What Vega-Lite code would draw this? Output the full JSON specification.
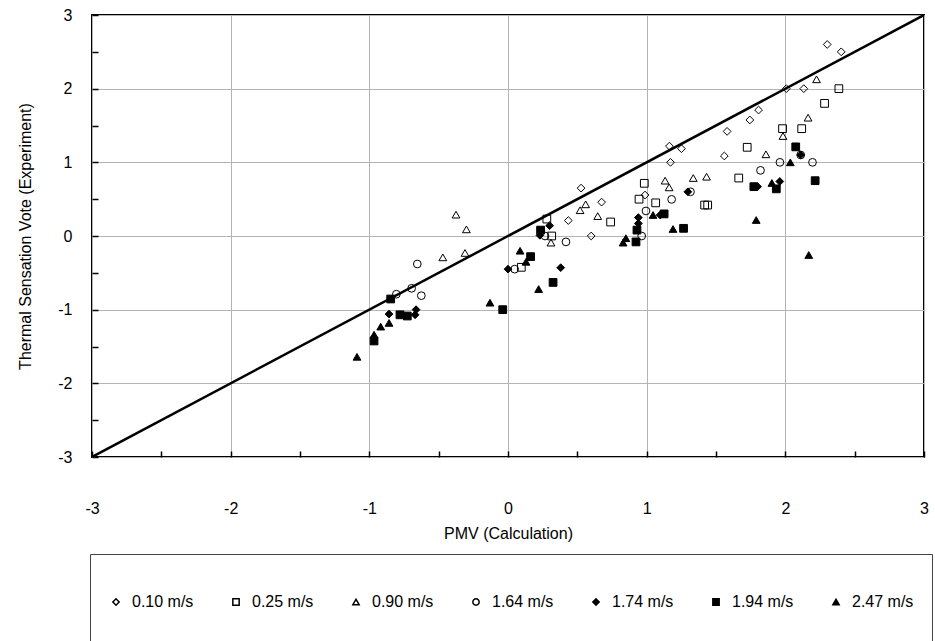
{
  "$schema": "https://vega.github.io/schema/vega-lite/v6.json",
  "width": 832,
  "height": 442,
  "autosize": {"type": "none"},
  "padding": {"left": 92, "top": 15, "right": 11, "bottom": 184},
  "background": "white",
  "config": {
    "font": "Liberation Sans",
    "view": {"stroke": "black", "strokeWidth": 2}
  },
  "datasets": {
    "diag": [{"x": -3, "y": -3}, {"x": 3, "y": 3}],
    "pts": [
      {"speed": "0.10 m/s", "x": 0.435, "y": 0.21},
      {"speed": "0.10 m/s", "x": 0.527, "y": 0.65},
      {"speed": "0.10 m/s", "x": 0.60, "y": 0.0},
      {"speed": "0.10 m/s", "x": 0.675, "y": 0.46},
      {"speed": "0.10 m/s", "x": 0.988, "y": 0.556},
      {"speed": "0.10 m/s", "x": 1.164, "y": 1.22},
      {"speed": "0.10 m/s", "x": 1.172, "y": 1.0},
      {"speed": "0.10 m/s", "x": 1.251, "y": 1.185},
      {"speed": "0.10 m/s", "x": 1.56, "y": 1.086},
      {"speed": "0.10 m/s", "x": 1.58, "y": 1.42},
      {"speed": "0.10 m/s", "x": 1.744, "y": 1.575},
      {"speed": "0.10 m/s", "x": 1.807, "y": 1.71},
      {"speed": "0.10 m/s", "x": 2.007, "y": 2.0},
      {"speed": "0.10 m/s", "x": 2.133, "y": 2.0},
      {"speed": "0.10 m/s", "x": 2.302, "y": 2.6},
      {"speed": "0.10 m/s", "x": 2.403, "y": 2.5},
      {"speed": "0.25 m/s", "x": 0.096, "y": -0.425},
      {"speed": "0.25 m/s", "x": 0.28, "y": 0.23},
      {"speed": "0.25 m/s", "x": 0.315, "y": 0.0},
      {"speed": "0.25 m/s", "x": 0.74, "y": 0.19},
      {"speed": "0.25 m/s", "x": 0.945, "y": 0.5},
      {"speed": "0.25 m/s", "x": 0.983, "y": 0.715},
      {"speed": "0.25 m/s", "x": 1.065, "y": 0.45},
      {"speed": "0.25 m/s", "x": 1.418, "y": 0.42},
      {"speed": "0.25 m/s", "x": 1.44, "y": 0.42},
      {"speed": "0.25 m/s", "x": 1.664, "y": 0.787},
      {"speed": "0.25 m/s", "x": 1.725, "y": 1.204},
      {"speed": "0.25 m/s", "x": 1.98, "y": 1.457},
      {"speed": "0.25 m/s", "x": 2.118, "y": 1.457},
      {"speed": "0.25 m/s", "x": 2.283, "y": 1.8},
      {"speed": "0.25 m/s", "x": 2.386, "y": 2.0},
      {"speed": "0.90 m/s", "x": -0.375, "y": 0.29},
      {"speed": "0.90 m/s", "x": -0.3, "y": 0.09},
      {"speed": "0.90 m/s", "x": -0.47, "y": -0.29},
      {"speed": "0.90 m/s", "x": -0.31, "y": -0.23},
      {"speed": "0.90 m/s", "x": 0.31, "y": -0.09},
      {"speed": "0.90 m/s", "x": 0.52, "y": 0.35},
      {"speed": "0.90 m/s", "x": 0.56, "y": 0.43},
      {"speed": "0.90 m/s", "x": 0.647, "y": 0.27},
      {"speed": "0.90 m/s", "x": 1.133, "y": 0.751},
      {"speed": "0.90 m/s", "x": 1.162, "y": 0.66},
      {"speed": "0.90 m/s", "x": 1.336, "y": 0.787},
      {"speed": "0.90 m/s", "x": 1.432, "y": 0.805},
      {"speed": "0.90 m/s", "x": 1.86, "y": 1.109},
      {"speed": "0.90 m/s", "x": 1.983, "y": 1.357},
      {"speed": "0.90 m/s", "x": 2.164, "y": 1.606},
      {"speed": "0.90 m/s", "x": 2.225, "y": 2.127},
      {"speed": "1.64 m/s", "x": -0.805, "y": -0.79},
      {"speed": "1.64 m/s", "x": -0.695, "y": -0.71},
      {"speed": "1.64 m/s", "x": -0.654, "y": -0.38},
      {"speed": "1.64 m/s", "x": -0.625, "y": -0.81},
      {"speed": "1.64 m/s", "x": 0.048, "y": -0.45},
      {"speed": "1.64 m/s", "x": 0.267, "y": 0.0},
      {"speed": "1.64 m/s", "x": 0.418, "y": -0.08},
      {"speed": "1.64 m/s", "x": 0.964, "y": 0.0},
      {"speed": "1.64 m/s", "x": 0.995, "y": 0.34},
      {"speed": "1.64 m/s", "x": 1.18, "y": 0.497},
      {"speed": "1.64 m/s", "x": 1.316, "y": 0.6},
      {"speed": "1.64 m/s", "x": 1.821, "y": 0.891},
      {"speed": "1.64 m/s", "x": 1.961, "y": 1.0},
      {"speed": "1.64 m/s", "x": 2.111, "y": 1.1},
      {"speed": "1.64 m/s", "x": 2.196, "y": 1.0},
      {"speed": "1.74 m/s", "x": -0.858, "y": -1.06},
      {"speed": "1.74 m/s", "x": -0.67, "y": -1.07},
      {"speed": "1.74 m/s", "x": -0.663, "y": -1.0},
      {"speed": "1.74 m/s", "x": 0.0, "y": -0.45},
      {"speed": "1.74 m/s", "x": 0.23, "y": 0.01},
      {"speed": "1.74 m/s", "x": 0.3, "y": 0.14},
      {"speed": "1.74 m/s", "x": 0.38, "y": -0.43},
      {"speed": "1.74 m/s", "x": 0.94, "y": 0.25},
      {"speed": "1.74 m/s", "x": 0.94, "y": 0.17},
      {"speed": "1.74 m/s", "x": 1.097, "y": 0.285},
      {"speed": "1.74 m/s", "x": 1.297, "y": 0.6},
      {"speed": "1.74 m/s", "x": 1.8, "y": 0.67},
      {"speed": "1.74 m/s", "x": 1.96, "y": 0.74},
      {"speed": "1.74 m/s", "x": 2.111, "y": 1.1},
      {"speed": "1.94 m/s", "x": -0.966, "y": -1.425},
      {"speed": "1.94 m/s", "x": -0.846, "y": -0.855},
      {"speed": "1.94 m/s", "x": -0.779, "y": -1.07},
      {"speed": "1.94 m/s", "x": -0.726, "y": -1.086},
      {"speed": "1.94 m/s", "x": -0.038, "y": -1.0},
      {"speed": "1.94 m/s", "x": 0.163, "y": -0.28},
      {"speed": "1.94 m/s", "x": 0.235, "y": 0.08},
      {"speed": "1.94 m/s", "x": 0.325, "y": -0.63},
      {"speed": "1.94 m/s", "x": 0.923, "y": -0.08},
      {"speed": "1.94 m/s", "x": 0.93, "y": 0.08},
      {"speed": "1.94 m/s", "x": 1.126, "y": 0.3},
      {"speed": "1.94 m/s", "x": 1.266, "y": 0.104},
      {"speed": "1.94 m/s", "x": 1.773, "y": 0.67},
      {"speed": "1.94 m/s", "x": 1.935, "y": 0.64},
      {"speed": "1.94 m/s", "x": 2.075, "y": 1.21},
      {"speed": "1.94 m/s", "x": 2.215, "y": 0.751},
      {"speed": "2.47 m/s", "x": -1.089, "y": -1.64},
      {"speed": "2.47 m/s", "x": -0.966, "y": -1.34},
      {"speed": "2.47 m/s", "x": -0.918, "y": -1.23},
      {"speed": "2.47 m/s", "x": -0.858, "y": -1.18},
      {"speed": "2.47 m/s", "x": -0.13, "y": -0.905},
      {"speed": "2.47 m/s", "x": 0.087, "y": -0.2},
      {"speed": "2.47 m/s", "x": 0.13, "y": -0.35},
      {"speed": "2.47 m/s", "x": 0.221, "y": -0.72},
      {"speed": "2.47 m/s", "x": 0.83, "y": -0.09},
      {"speed": "2.47 m/s", "x": 0.85, "y": -0.03},
      {"speed": "2.47 m/s", "x": 1.046, "y": 0.285},
      {"speed": "2.47 m/s", "x": 1.19, "y": 0.095},
      {"speed": "2.47 m/s", "x": 1.79, "y": 0.217},
      {"speed": "2.47 m/s", "x": 1.903, "y": 0.72},
      {"speed": "2.47 m/s", "x": 2.036, "y": 1.0},
      {"speed": "2.47 m/s", "x": 2.169, "y": -0.258}
    ]
  },
  "encoding": {
    "x": {
      "field": "x",
      "type": "quantitative",
      "scale": {"domain": [-3, 3], "nice": false, "zero": false},
      "axis": {
        "values": [-3, -2.5, -2, -1.5, -1, -0.5, 0, 0.5, 1, 1.5, 2, 2.5, 3],
        "title": "PMV (Calculation)",
        "labelExpr": "datum.value % 1 === 0 ? '' + datum.value : ''",
        "grid": true,
        "gridColor": "#b4b4b4",
        "gridWidth": 1,
        "gridOpacity": {"condition": {"test": "datum.value % 1 !== 0", "value": 0}, "value": 1},
        "domain": false,
        "ticks": true,
        "tickSize": -6,
        "tickColor": "black",
        "tickWidth": 1.5,
        "labelPadding": 49,
        "labelFontSize": 16,
        "labelColor": "black",
        "labelFlush": false,
        "labelOverlap": false,
        "titleFontSize": 16,
        "titleFontWeight": "normal",
        "titleColor": "black",
        "titlePadding": 9
      }
    },
    "y": {
      "field": "y",
      "type": "quantitative",
      "scale": {"domain": [-3, 3], "nice": false, "zero": false},
      "axis": {
        "values": [-3, -2.5, -2, -1.5, -1, -0.5, 0, 0.5, 1, 1.5, 2, 2.5, 3],
        "title": "Thermal Sensation Vote (Experiment)",
        "labelExpr": "datum.value % 1 === 0 ? '' + datum.value : ''",
        "grid": true,
        "gridColor": "#b4b4b4",
        "gridWidth": 1,
        "gridOpacity": {"condition": {"test": "datum.value % 1 !== 0", "value": 0}, "value": 1},
        "domain": false,
        "ticks": true,
        "tickSize": -6,
        "tickColor": "black",
        "tickWidth": 1.5,
        "labelPadding": 26,
        "labelFontSize": 16,
        "labelColor": "black",
        "labelFlush": false,
        "labelOverlap": false,
        "titleFontSize": 16,
        "titleFontWeight": "normal",
        "titleColor": "black",
        "titlePadding": 24
      }
    }
  },
  "layer": [
    {
      "data": {"name": "diag"},
      "mark": {"type": "line", "color": "black", "strokeWidth": 2.5, "clip": true}
    },
    {
      "data": {"name": "pts"},
      "mark": {"type": "point", "filled": true, "stroke": "black", "strokeWidth": 1, "opacity": 1, "size": 60},
      "encoding": {
        "shape": {
          "field": "speed",
          "type": "nominal",
          "scale": {
            "domain": ["0.10 m/s", "0.25 m/s", "0.90 m/s", "1.64 m/s", "1.74 m/s", "1.94 m/s", "2.47 m/s"],
            "range": ["diamond", "square", "triangle-up", "circle", "diamond", "square", "triangle-up"]
          },
          "legend": {
            "orient": "none", "legendX": -2, "legendY": 539, "direction": "horizontal", "columns": 7,
            "title": null, "strokeColor": "#444", "fillColor": "white", "padding": 18, "clipHeight": 60,
            "symbolSize": 40,
            "labelFontSize": 16, "labelColor": "black", "labelOffset": 8, "columnPadding": 34, "gridAlign": "all",
            "encode": {"symbols": {"update": {"stroke": {"value": "black"}, "strokeWidth": {"value": 1}, "opacity": {"value": 1}}}}
          }
        },
        "fill": {
          "field": "speed",
          "type": "nominal",
          "scale": {
            "domain": ["0.10 m/s", "0.25 m/s", "0.90 m/s", "1.64 m/s", "1.74 m/s", "1.94 m/s", "2.47 m/s"],
            "range": ["transparent", "transparent", "transparent", "transparent", "black", "black", "black"]
          },
          "legend": {
            "orient": "none", "legendX": -2, "legendY": 539, "direction": "horizontal", "columns": 7,
            "title": null, "strokeColor": "#444", "fillColor": "white", "padding": 18, "clipHeight": 60,
            "symbolSize": 40,
            "labelFontSize": 16, "labelColor": "black", "labelOffset": 8, "columnPadding": 34, "gridAlign": "all",
            "encode": {"symbols": {"update": {"stroke": {"value": "black"}, "strokeWidth": {"value": 1}, "opacity": {"value": 1}}}}
          }
        }
      }
    }
  ]
}
